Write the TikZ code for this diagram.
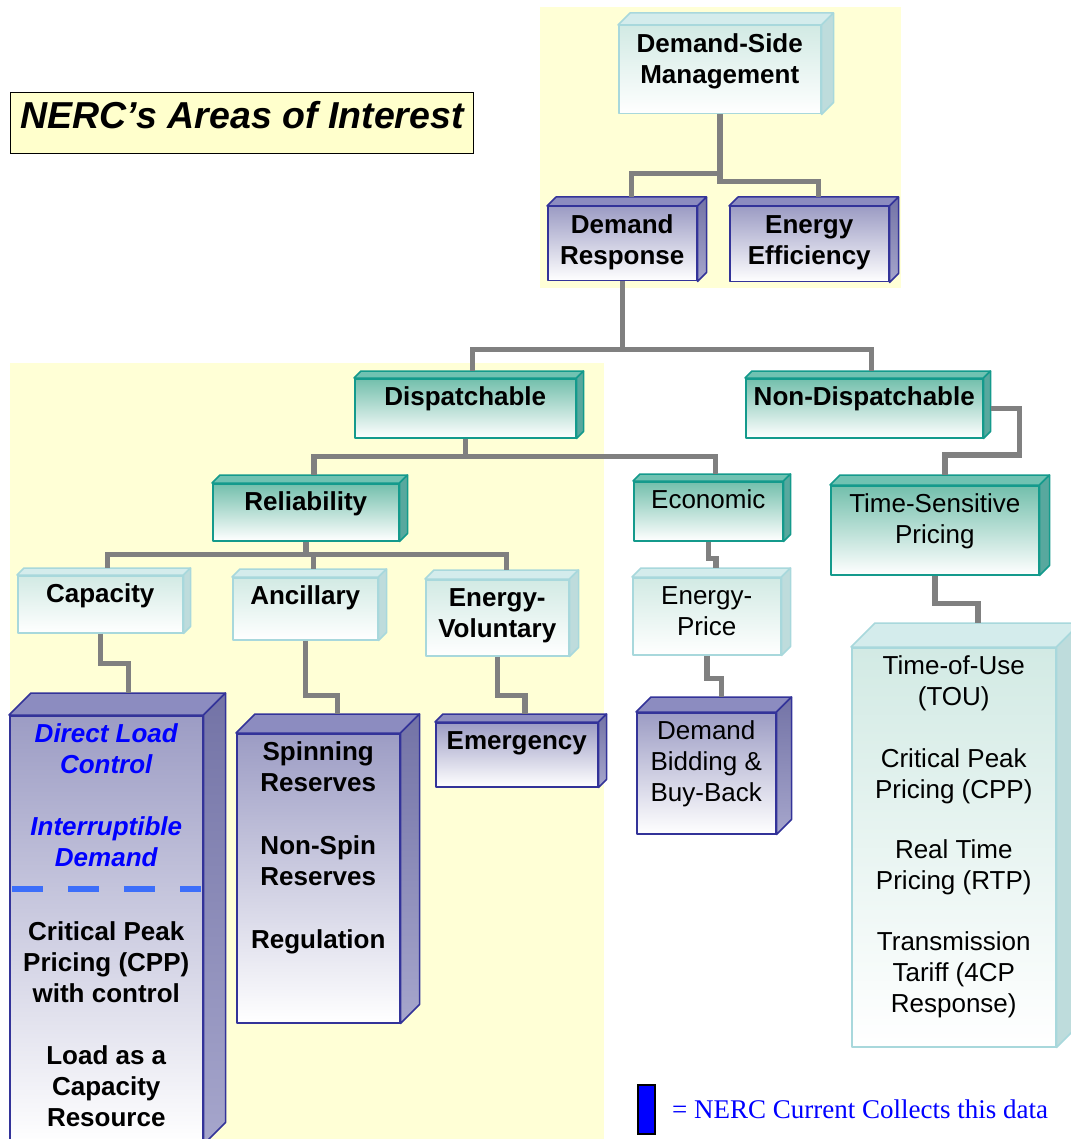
\documentclass[tikz,border=0pt]{standalone}
\usepackage{fontspec}
\setmainfont{Liberation Sans}
\newfontfamily\legendfont{Liberation Serif}
\usetikzlibrary{calc}

\definecolor{areayellow}{RGB}{255,255,214}
\definecolor{titleyellow}{RGB}{255,255,204}
\definecolor{linkgray}{RGB}{128,128,128}
\definecolor{liteedge}{RGB}{168,216,220}
\definecolor{litefront}{RGB}{210,234,228}
\definecolor{litetop}{RGB}{212,236,236}
\definecolor{liteside}{RGB}{190,220,220}
\definecolor{tealedge}{RGB}{20,154,140}
\definecolor{tealfront}{RGB}{115,191,172}
\definecolor{tealtop}{RGB}{112,194,178}
\definecolor{tealside}{RGB}{88,168,158}
\definecolor{purpedge}{RGB}{51,51,153}
\definecolor{purpfront}{RGB}{156,156,196}
\definecolor{purptop}{RGB}{140,140,192}
\definecolor{purpside}{RGB}{115,115,166}
\definecolor{purpsidelow}{RGB}{166,166,204}
\definecolor{cutblue}{RGB}{60,110,250}

\tikzset{
  face/.style={line width=1.5pt, line join=round},
  frontface/.style={face, anchor=north west, inner sep=0pt, font=\fontsize{26}{31}\selectfont},
  lite box/.style={frontface, draw=liteedge, top color=litefront, bottom color=white},
  lite top/.style={face, draw=liteedge, fill=litetop},
  lite side/.style={face, draw=liteedge, fill=liteside},
  teal box/.style={frontface, draw=tealedge, top color=tealfront, bottom color=white},
  teal top/.style={face, draw=tealedge, fill=tealtop},
  teal side/.style={face, draw=tealedge, fill=tealside},
  purp box/.style={frontface, draw=purpedge, top color=purpfront, bottom color=white},
  purp top/.style={face, draw=purpedge, fill=purptop},
  purp side/.style={face, draw=purpedge, top color=purpside, bottom color=purpsidelow},
  link/.style={draw=linkgray, line width=5.5pt},
  cutline/.style={draw=cutblue, line width=6pt, dash pattern=on 31pt off 25pt}
}

% box with top face and side face: name, kind, x, y, width, height, depth, text
\newcommand{\tierbox}[8]{%
  \node[#2 box] (#1) at (#3,#4)
    {\parbox[t][#6pt][t]{#5pt}{\centering\rule{0pt}{27pt}#8}};
  \path[#2 top] (#1.north west) -- ++(#7,-#7) -- ($(#1.north east)+(#7,-#7)$) -- (#1.north east) -- cycle;
  \path[#2 side] (#1.north east) -- ++(#7,-#7) -- ($(#1.south east)+(#7,-#7)$) -- (#1.south east) -- cycle;
  \coordinate (#1-t) at ($(#1.north)+(#7,-#7)$);
}

\begin{document}
\begin{tikzpicture}[x=1pt,y=-1pt]
\fill[white] (0,0) rectangle (1070,1139);
\useasboundingbox (0,0) rectangle (1070,1139);

% shaded areas
\fill[areayellow] (540,7) rectangle (901,288);
\fill[areayellow] (10,363) rectangle (604,1139);

\node[draw=black, line width=1.2pt, fill=titleyellow, anchor=north west, minimum width=463pt,
  text height=26pt, text depth=15pt, inner ysep=10pt,
  font=\fontsize{37.5}{41}\selectfont\bfseries\itshape] (title) at (10,92) {NERC’s Areas of Interest};

% top levels
\tierbox{dsm}{lite}{618}{25}{202}{88}{12}{\bfseries Demand-Side\\Management}
\tierbox{dr}{purp}{547}{206}{149}{74}{9}{\bfseries Demand\\Response}
\tierbox{ee}{purp}{729}{206}{159}{75}{9}{\bfseries Energy\\Efficiency}
\tierbox{disp}{teal}{354}{378}{221}{59}{7}{\bfseries Dispatchable}
\tierbox{ndisp}{teal}{745}{378}{237}{59}{7}{\bfseries Non-Dispatchable}

% middle levels
\tierbox{rel}{teal}{212}{483}{186}{57}{8}{\bfseries Reliability}
\tierbox{econ}{teal}{633}{481}{149}{59}{7}{Economic}
\tierbox{tsp}{teal}{830}{485}{208}{89}{10}{Time-Sensitive\\Pricing}
\tierbox{cap}{lite}{17}{575}{165}{57}{7}{\bfseries Capacity}
\tierbox{anc}{lite}{232}{577}{145}{62}{8}{\bfseries Ancillary}
\tierbox{ev}{lite}{425}{579}{143}{76}{9}{\bfseries Energy-\\Voluntary}
\tierbox{eprice}{lite}{632}{577}{148}{77}{9}{Energy-\\Price}

% bottom level
\tierbox{dlc}{purp}{9}{715}{193}{428}{22}{\bfseries{\color{blue}\itshape Direct Load\\Control\\[31pt]Interruptible\\Demand}\\[43pt]Critical Peak\\Pricing (CPP)\\with control\\[31pt]Load as a\\Capacity\\Resource}
\tierbox{spin}{purp}{236}{733}{163}{289}{19}{\bfseries Spinning\\Reserves\\[32pt]Non-Spin\\Reserves\\[32pt]Regulation}
\tierbox{emerg}{purp}{435}{722}{162}{64}{8}{\bfseries Emergency}
\tierbox{dbid}{purp}{636}{712}{139}{121}{15}{Demand\\Bidding \&\\Buy-Back}
\tierbox{tou}{lite}{851}{647}{204}{399}{24}{Time-of-Use\\(TOU)\\[31pt]Critical Peak\\Pricing (CPP)\\[29pt]Real Time\\Pricing (RTP)\\[30pt]Transmission\\Tariff (4CP\\Response)}

\draw[cutline] ($(dlc.north west)+(3,174)$) -- ($(dlc.north east)+(-3,174)$);

% connectors
\draw[link] (dsm.south) -- ++(0,59) -| (dr-t);
\draw[link] (dsm.south) -- ++(0,67) -| (ee-t);
\draw[link] (dr.south) -- ++(0,68) -| (disp-t);
\draw[link] (dr.south) -- ++(0,68) -| (ndisp-t);
\draw[link] (disp.south) -- ++(0,18) -| (rel-t);
\draw[link] (disp.south) -- ++(0,18) -| (econ-t);
\draw[link] ($(ndisp.east)+(7,0)$) -- ++(29,0) |- ($(tsp-t)+(0,-20)$) -- (tsp-t);
\draw[link] (rel.south) -- ++(0,13) -| (cap-t);
\draw[link] (rel.south) -- ++(0,13) -| (anc-t);
\draw[link] (rel.south) -- ++(0,13) -| (ev-t);
\draw[link] (econ.south) -- ++(0,17) -| (eprice-t);
\draw[link] (cap.south) -- ++(0,30) -| (dlc-t);
\draw[link] (anc.south) -- ++(0,55) -| (spin-t);
\draw[link] (ev.south) -- ++(0,39) -| (emerg-t);
\draw[link] (eprice.south) -- ++(0,23) -| (dbid-t);
\draw[link] (tsp.south) -- ++(0,28) -| (tou-t);

% legend
\node[draw=black, fill=blue, line width=1.5pt, anchor=north west, inner sep=0pt,
  minimum width=17pt, minimum height=49pt] (swatch) at (637,1084) {};
\node[anchor=base west, inner sep=0pt, text=blue, font=\legendfont\fontsize{27}{30}\selectfont]
  (legend) at (672,1118) {= NERC Current Collects this data};
\end{tikzpicture}
\end{document}
